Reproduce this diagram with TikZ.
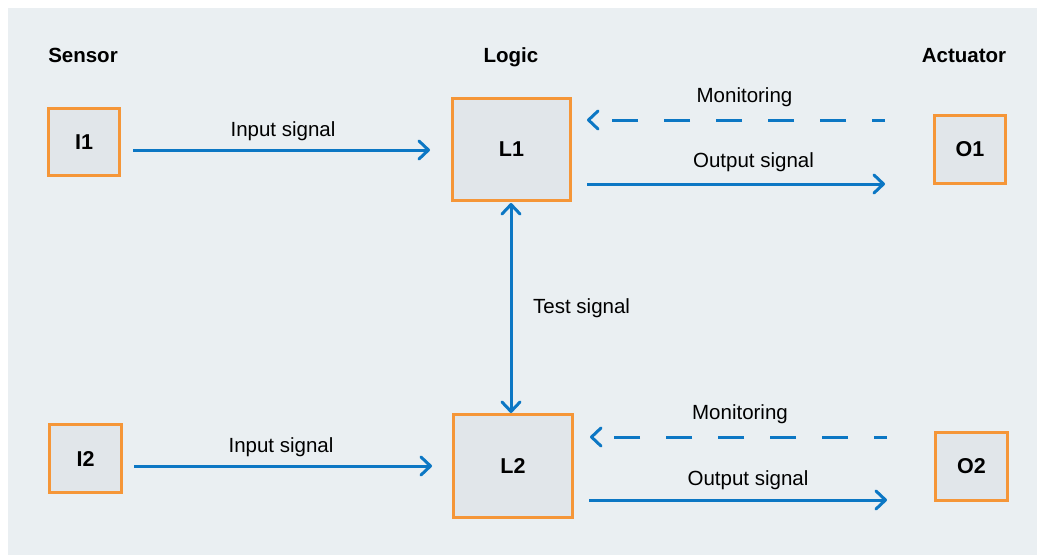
\documentclass[tikz,border=0pt]{standalone}
\usepackage{fontspec}
\setmainfont{Liberation Sans}
\usetikzlibrary{arrows.meta,calc}
\definecolor{sigblue}{RGB}{12,119,196}
\definecolor{boxorange}{RGB}{245,150,56}
\definecolor{boxfill}{RGB}{225,230,234}
\definecolor{panel}{RGB}{234,239,242}
\tikzset{
  blk/.style={draw=boxorange, fill=boxfill, line width=3pt, inner sep=0pt,
    font=\fontsize{21.5}{25}\selectfont\bfseries},
  small/.style={blk, minimum width=71pt, minimum height=67pt},
  big/.style={blk, minimum width=118pt, minimum height=102pt},
  lbl/.style={anchor=base, inner sep=0pt, font=\fontsize{20.5}{24}\selectfont},
  hdr/.style={lbl, font=\fontsize{20.5}{24}\selectfont\bfseries},
  tipend/.tip={Straight Barb[length=9.5pt, width=18pt, round]},
  sig/.style={draw=sigblue, line width=3pt, -tipend},
  mon/.style={sig, dash pattern=on 26pt off 26pt, dash phase=13pt},
}
\begin{document}
\begin{tikzpicture}[x=1pt, y=-1pt]
\useasboundingbox (0,0) rectangle (1037,555);
\fill[panel] (8,8) rectangle (1037,555);

% headers
\node[hdr] (hs) at (83,62) {Sensor};
\node[hdr] (hl) at (511,62) {Logic};
\node[hdr] (ha) at (964,62) {Actuator};

% boxes
\node[small] (I1) at (84,142) {I1};
\node[small, minimum width=72pt, minimum height=68pt] (I2) at (85.5,458.5) {I2};
\node[big] (L1) at (511.5,149.5) {L1};
\node[big, minimum width=119pt, minimum height=103pt] (L2) at (513,466) {L2};
\node[small, minimum height=68pt] (O1) at (970,149.5) {O1};
\node[small, minimum width=72pt, minimum height=68pt] (O2) at (971.5,466.5) {O2};

% connectors, upper row
\draw[sig] ($(I1.east)+(12,8)$) -- ($(L1.west)+(-21,0.5)$);
\draw[mon] ($(O1.west)+(-48,-29.5)$) -- ($(L1.east)+(15,-29.5)$);
\draw[sig] ($(L1.east)+(15,34.5)$) -- ($(O1.west)+(-48,34.5)$);

% connectors, lower row
\draw[sig] ($(I2.east)+(11,7.5)$) -- ($(L2.west)+(-20,0)$);
\draw[mon] ($(O2.west)+(-47,-29.5)$) -- ($(L2.east)+(16,-29)$);
\draw[sig] ($(L2.east)+(15,34)$) -- ($(O2.west)+(-47,33.5)$);

% test signal
\draw[sig, tipend-tipend] ($(L1.south)+(-0.5,1)$) -- ($(L2.north)+(-2,0)$);

% labels
\node[lbl] (t1) at (283,136) {Input signal};
\node[lbl] (t2) at (281,452) {Input signal};
\node[lbl] (t3) at (744.5,102.5) {Monitoring};
\node[lbl] (t4) at (753.5,167) {Output signal};
\node[lbl] (t5) at (740,419) {Monitoring};
\node[lbl] (t6) at (748,485) {Output signal};
\node[lbl, anchor=base west] (t7) at (533,313) {Test signal};
\end{tikzpicture}
\end{document}
